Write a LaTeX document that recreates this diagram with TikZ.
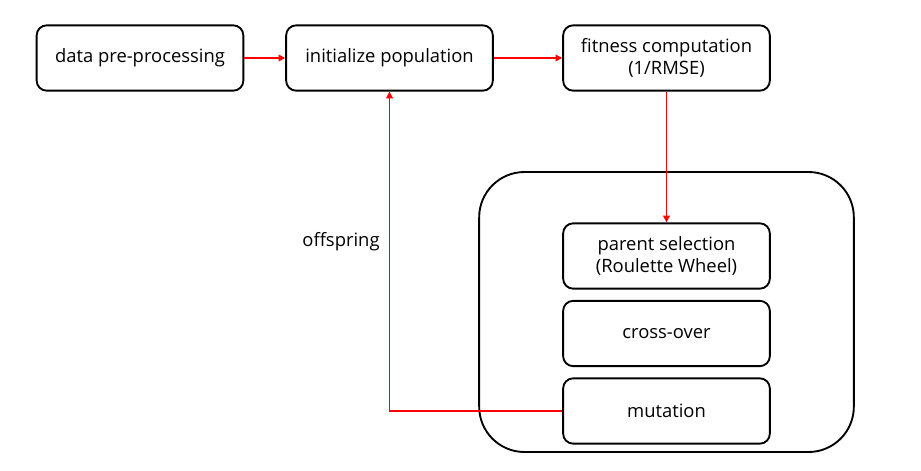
\documentclass[tikz,border=0pt]{standalone}
\usepackage{fontspec}
\setmainfont{Open Sans}
\usetikzlibrary{arrows.meta}
\colorlet{flow}{red}
\tikzset{
  stage/.style={rectangle,rounded corners=7.5pt,draw,line width=1.4pt,minimum width=155pt,minimum height=49pt,align=center,font=\fontsize{13.8}{17}\selectfont},
  group/.style={rectangle,rounded corners=34pt,draw,line width=1.4pt,minimum width=281pt,minimum height=210pt},
  flow/.style={-{Triangle[length=5pt,width=5pt]},draw=flow,line width=1.1pt},
}

\begin{document}
\begin{tikzpicture}[x=0.75pt,y=-0.75pt]
      \useasboundingbox (0,0) rectangle (921,471);
      \node [group] (ga) at (666.5,312) {};
      \node [stage] (prep) at (140,58) {data pre-processing};
      \node [stage] (init) at (389.5,58) {initialize population};
      \node [stage] (fit) at (666.5,58) {fitness computation\\(1/RMSE)};
      \foreach \name/\txt [count=\i from 0] in {sel/{parent selection\\(Roulette Wheel)},cross/cross-over,mut/mutation}
      {
        \node [stage] (\name) at (666.5,256+\i*77.5) {\txt};
      }
      \draw [flow] (prep) -- (init);
      \draw [flow] (init) -- (fit);
      \draw [flow] (fit) -- (sel);
      \draw [flow] (mut.west) -| (init.south);
      \node [font=\fontsize{13.8}{17}\selectfont] (off) at (341,242) {offspring};
    \end{tikzpicture}
\end{document}
